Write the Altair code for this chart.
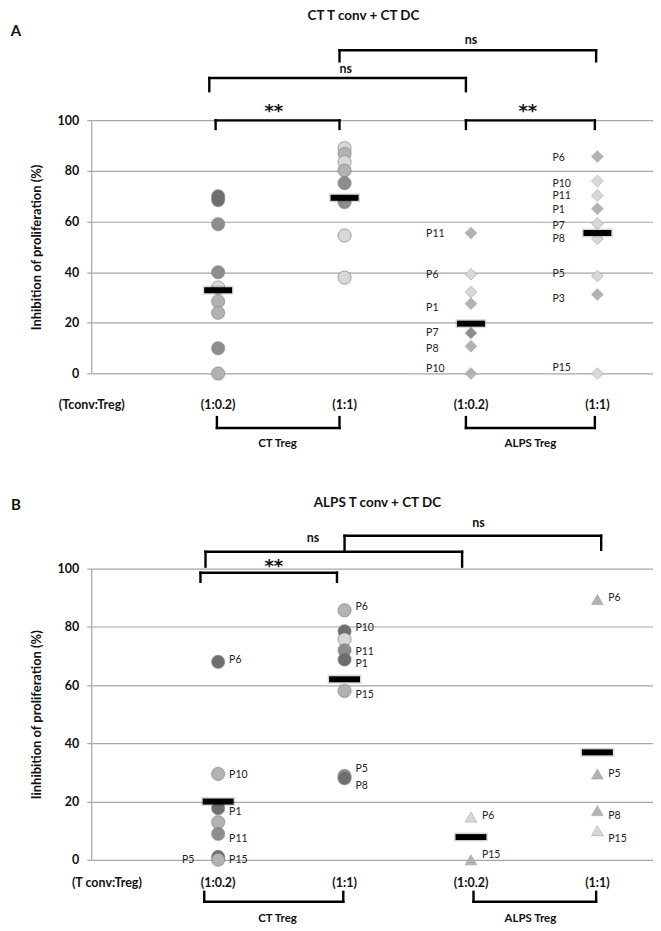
import altair as alt
import pandas as pd

FONT = "Lato"
GRID = "#a6a6a6"

# ---------------- shared ----------------
CAT_X = [1, 2, 3, 4]
CAT_LABELS = ["(1:0.2)", "(1:1)", "(1:0.2)", "(1:1)"]
Y_TICKS = [0, 20, 40, 60, 80, 100]
TONES = ["dark", "mid", "light", "pale"]
TONE_COLORS = ["#6e6e6e", "#8d8d8d", "#b2b2b2", "#d8d8d8"]
GROUP_LABELS = ["CT Treg", "ALPS Treg"]
GROUP_X = [1.47, 3.47]

# ---------------- panel A : CT T conv + CT DC ----------------
A_TITLE = "CT T conv + CT DC"
A_YTITLE = "Inhibition of proliferation (%)"
A_RATIO = "(Tconv:Treg)"
A_CT02 = [70, 68.5, 59, 40, 34, 28.5, 24, 10, 0]
A_CT02_TONE = ["dark", "dark", "mid", "mid", "pale", "light", "light", "mid", "light"]
A_CT11 = [89, 86.8, 83.5, 80.2, 75.2, 67.7, 54.5, 37.9]
A_CT11_TONE = ["pale", "light", "pale", "light", "mid", "mid", "pale", "pale"]
A_AL02 = [55.5, 39.2, 32.2, 27.6, 16, 10.8, 0]
A_AL02_TONE = ["light", "pale", "pale", "light", "mid", "light", "light"]
A_AL02_LAB = ["P11", "P6", "P1", "P7", "P8", "P10"]
A_AL02_LABY = [55, 39, 25.7, 16, 9.6, 1.6]
A_AL11 = [85.7, 76, 70.3, 65.1, 59.2, 53.2, 38.5, 31.2, 0]
A_AL11_TONE = ["light", "pale", "pale", "light", "pale", "pale", "pale", "light", "pale"]
A_AL11_LAB = ["P6", "P10", "P11", "P1", "P7", "P8", "P5", "P3", "P15"]
A_AL11_LABY = [85.3, 74.8, 70.2, 64.7, 58.1, 53.1, 39.4, 29.5, 2.0]
A_MEDIANS = [32.9, 69.4, 19.7, 55.5]
# significance marks: text, x, y
A_SIG_TEXT = ["ns", "ns", "**", "**"]
A_SIG_X = [3.0, 2.01, 1.44, 3.45]
A_SIG_Y = [131.6, 120.2, 103.2, 103.2]
# brackets: x1, x2, y of the bar, y where the legs end
A_BR_X1 = [1.96, 0.93, 0.98, 2.96, 0.99, 2.96]
A_BR_X2 = [3.99, 2.96, 1.96, 3.98, 1.96, 3.98]
A_BR_Y = [127.7, 116.7, 100, 100, -21.5, -21.5]
A_BR_Y2 = [123.3, 111.5, 96.6, 96.6, -17.2, -17.2]

# ---------------- panel B : ALPS T conv + CT DC ----------------
B_TITLE = "ALPS T conv + CT DC"
B_YTITLE = "Iinhibition of proliferation (%)"
B_RATIO = "(T conv:Treg)"
B_CT02 = [68, 29.5, 17.7, 12.9, 8.9, 1, 0]
B_CT02_TONE = ["dark", "light", "dark", "light", "mid", "dark", "light"]
B_CT02_LAB_R = ["P6", "P10", "P1", "P11", "P15"]
B_CT02_LABY_R = [68.5, 29.1, 16.3, 7.2, 0]
B_CT02_LAB_L = ["P5"]
B_CT02_LABY_L = [0]
B_CT11 = [85.7, 78.5, 75.7, 72, 68.8, 58, 28.8, 28]
B_CT11_TONE = ["light", "dark", "pale", "mid", "dark", "light", "mid", "dark"]
B_CT11_LAB = ["P6", "P10", "P11", "P1", "P15", "P5", "P8"]
B_CT11_LABY = [86.8, 79.7, 71.2, 67.2, 56.6, 31.2, 25.4]
B_AL02 = [14.7, 0]
B_AL02_TONE = ["pale", "light"]
B_AL02_LAB = ["P6", "P15"]
B_AL02_LABY = [15.2, 1.5]
B_AL11 = [89.4, 29.5, 16.9, 10]
B_AL11_TONE = ["light", "light", "light", "pale"]
B_AL11_LAB = ["P6", "P5", "P8", "P15"]
B_AL11_LABY = [90, 29.5, 15.2, 7.2]
B_MEDIANS = [20, 62, 7.8, 36.9]
B_SIG_TEXT = ["ns", "ns", "**"]
B_SIG_X = [3.06, 1.75, 1.44]
B_SIG_Y = [115.8, 110.6, 100.6]
B_BR_X1 = [2.0, 0.9, 0.86, 0.89, 3.02]
B_BR_X2 = [4.03, 2.93, 1.94, 1.99, 3.99]
B_BR_Y = [111.3, 105.8, 98.6, -14.4, -14.4]
B_BR_Y2 = [106.5, 100.7, 95.5, -11.0, -11.0]


def pts(groups):
    rows = []
    for cat, vals, tones in groups:
        for v, t in zip(vals, tones):
            rows.append({"cat": cat, "v": v, "tone": t})
    return pd.DataFrame(rows)


def labs(groups):
    rows = []
    for cat, texts, ys in groups:
        for t, y in zip(texts, ys):
            rows.append({"cat": cat, "v": y, "t": t})
    return pd.DataFrame(rows)


def brackets(x1s, x2s, ys, y2s):
    rows = []
    for a, b, y, y2 in zip(x1s, x2s, ys, y2s):
        rows.append({"x": a, "x2": b, "y": y, "y2": y})
        rows.append({"x": a, "x2": a, "y": y, "y2": y2})
        rows.append({"x": b, "x2": b, "y": y, "y2": y2})
    return pd.DataFrame(rows)


def panel(letter, title, title_x, title_y, ytitle, ratio, ratio_x, ratio_y, group_y,
          point_groups, other_shape, label_groups_left, label_groups_right,
          label_groups_right_left, medians, sig, br,
          ppu, ymax, height, width, bar_w, bar_t, letter_y):
    ymin = ymax - height / ppu
    xs = alt.Scale(domain=[0, 4.44], nice=False, zero=False)
    ys = alt.Scale(domain=[ymin, ymax], nice=False, zero=False)
    title_px = (ymax - 50) * ppu

    def X(f):
        return alt.X(f, scale=xs)

    def Y(f):
        return alt.Y(f, scale=ys)

    base = alt.Chart(pd.DataFrame({"v": Y_TICKS})).mark_tick(opacity=0).encode(
        x=alt.X(datum=0, scale=xs, axis=None),
        y=alt.Y("v:Q", scale=ys, axis=alt.Axis(
            values=Y_TICKS, grid=True, gridColor=GRID, gridWidth=1.2, domain=False,
            tickColor=GRID, tickSize=5, tickWidth=1.2, labelPadding=8,
            labelFont=FONT, labelFontWeight="bold", labelFontSize=12.5, labelColor="#111",
            title=ytitle, titleFont=FONT, titleFontWeight="bold", titleFontSize=13,
            titleColor="#111", titleAngle=270, titleX=-48, titleY=title_px,
            titleAlign="center", titleBaseline="bottom")),
    )
    axis_line = alt.Chart(pd.DataFrame({"a": [0]})).mark_rule(color=GRID, strokeWidth=1.2).encode(
        x=alt.X(datum=0, scale=xs), y=alt.Y(datum=0, scale=ys), y2=alt.Y2(datum=100))

    layers = [base, axis_line]

    d = pts(point_groups)
    color = alt.Color("tone:N", scale=alt.Scale(domain=TONES, range=TONE_COLORS), legend=None)
    circ = d[d.cat <= 2]
    oth = d[d.cat >= 3]
    # soft halo behind the markers
    layers.append(alt.Chart(circ).mark_point(
        shape="circle", filled=True, size=230, color="#000", opacity=0.07
    ).encode(x=X("cat:Q"), y=Y("v:Q")))
    layers.append(alt.Chart(oth).mark_point(
        shape=other_shape, filled=True, size=185, color="#000", opacity=0.06
    ).encode(x=X("cat:Q"), y=Y("v:Q")))
    layers.append(alt.Chart(circ).mark_point(
        shape="circle", filled=True, size=170, opacity=1, stroke="#808080", strokeWidth=0.6
    ).encode(x=X("cat:Q"), y=Y("v:Q"), color=color))
    layers.append(alt.Chart(oth).mark_point(
        shape=other_shape, filled=True, size=135, opacity=1, stroke="#a0a0a0", strokeWidth=0.5
    ).encode(x=X("cat:Q"), y=Y("v:Q"), color=color))

    md = pd.DataFrame({"cat": CAT_X, "v": medians})
    layers.append(alt.Chart(md).mark_tick(
        orient="horizontal", size=bar_w + 3, thickness=bar_t + 3, color="#000", opacity=0.15
    ).encode(x=X("cat:Q"), y=Y("v:Q")))
    layers.append(alt.Chart(md).mark_tick(
        orient="horizontal", size=bar_w, thickness=bar_t, color="black", opacity=1
    ).encode(x=X("cat:Q"), y=Y("v:Q")))

    if label_groups_left:
        layers.append(alt.Chart(labs(label_groups_left)).mark_text(
            align="left", baseline="middle", dx=-45, font=FONT, fontSize=10.5, color="#222"
        ).encode(x=X("cat:Q"), y=Y("v:Q"), text="t:N"))
    if label_groups_right:
        layers.append(alt.Chart(labs(label_groups_right)).mark_text(
            align="left", baseline="middle", dx=11, font=FONT, fontSize=10.5, color="#222"
        ).encode(x=X("cat:Q"), y=Y("v:Q"), text="t:N"))
    if label_groups_right_left:
        layers.append(alt.Chart(labs(label_groups_right_left)).mark_text(
            align="right", baseline="middle", dx=-24, font=FONT, fontSize=10.5, color="#222"
        ).encode(x=X("cat:Q"), y=Y("v:Q"), text="t:N"))

    layers.append(alt.Chart(brackets(*br)).mark_rule(
        color="black", strokeWidth=2.4, strokeCap="square"
    ).encode(x=X("x:Q"), x2="x2:Q", y=Y("y:Q"), y2="y2:Q"))

    sd = pd.DataFrame({"x": sig[1], "v": sig[2], "t": sig[0]})
    layers.append(alt.Chart(sd[sd.t == "ns"]).mark_text(
        font=FONT, fontWeight="bold", fontSize=12.5, color="#111", baseline="middle"
    ).encode(x=X("x:Q"), y=Y("v:Q"), text="t:N"))
    layers.append(alt.Chart(sd[sd.t == "**"]).mark_text(
        font="DejaVu Sans", fontWeight="bold", fontSize=18, color="#111", baseline="middle"
    ).encode(x=X("x:Q"), y=Y("v:Q"), text="t:N"))

    td = pd.DataFrame({"x": [title_x], "v": [title_y], "t": [title]})
    layers.append(alt.Chart(td).mark_text(
        font=FONT, fontWeight="bold", fontSize=13.5, color="#111", baseline="middle"
    ).encode(x=X("x:Q"), y=Y("v:Q"), text="t:N"))
    ld = pd.DataFrame({"v": [letter_y], "t": [letter]})
    layers.append(alt.Chart(ld).mark_text(
        font=FONT, fontWeight="bold", fontSize=15, color="#111", baseline="middle", align="center"
    ).encode(x=alt.value(-76), y=Y("v:Q"), text="t:N"))

    cd = pd.DataFrame({"x": [ratio_x] + CAT_X, "v": [ratio_y] * 5, "t": [ratio] + CAT_LABELS})
    layers.append(alt.Chart(cd).mark_text(
        font=FONT, fontWeight="bold", fontSize=12.5, color="#111", baseline="middle"
    ).encode(x=X("x:Q"), y=Y("v:Q"), text="t:N"))
    gd = pd.DataFrame({"x": GROUP_X, "v": [group_y] * 2, "t": GROUP_LABELS})
    layers.append(alt.Chart(gd).mark_text(
        font=FONT, fontWeight="bold", fontSize=11.5, color="#111", baseline="middle"
    ).encode(x=X("x:Q"), y=Y("v:Q"), text="t:N"))

    return alt.layer(*layers).properties(width=width, height=height)


chart_a = panel(
    "A", A_TITLE, 2.15, 141.0, A_YTITLE, A_RATIO, 0.0, -12.5, -27.8,
    [(1, A_CT02, A_CT02_TONE), (2, A_CT11, A_CT11_TONE),
     (3, A_AL02, A_AL02_TONE), (4, A_AL11, A_AL11_TONE)],
    "diamond",
    [(3, A_AL02_LAB, A_AL02_LABY), (4, A_AL11_LAB, A_AL11_LABY)], None, None,
    A_MEDIANS, (A_SIG_TEXT, A_SIG_X, A_SIG_Y), (A_BR_X1, A_BR_X2, A_BR_Y, A_BR_Y2),
    ppu=2.54, ymax=143.8, height=444, width=563, bar_w=28, bar_t=6, letter_y=135.2,
)

chart_b = panel(
    "B", B_TITLE, 2.26, 122.6, B_YTITLE, B_RATIO, 0.12, -7.9, -20.5,
    [(1, B_CT02, B_CT02_TONE), (2, B_CT11, B_CT11_TONE),
     (3, B_AL02, B_AL02_TONE), (4, B_AL11, B_AL11_TONE)],
    "triangle-up",
    None,
    [(1, B_CT02_LAB_R, B_CT02_LABY_R), (2, B_CT11_LAB, B_CT11_LABY),
     (3, B_AL02_LAB, B_AL02_LABY), (4, B_AL11_LAB, B_AL11_LABY)],
    [(1, B_CT02_LAB_L, B_CT02_LABY_L)],
    B_MEDIANS, (B_SIG_TEXT, B_SIG_X, B_SIG_Y), (B_BR_X1, B_BR_X2, B_BR_Y, B_BR_Y2),
    ppu=2.92, ymax=127.05, height=437, width=563, bar_w=31, bar_t=6, letter_y=121.9,
)

chart = alt.vconcat(chart_a, chart_b, spacing=38).properties(
    padding={"left": 2, "top": 0, "right": 0, "bottom": 0}
).configure_view(stroke=None)

chart.save("out.html", embed_options={"renderer": "svg", "actions": False})
